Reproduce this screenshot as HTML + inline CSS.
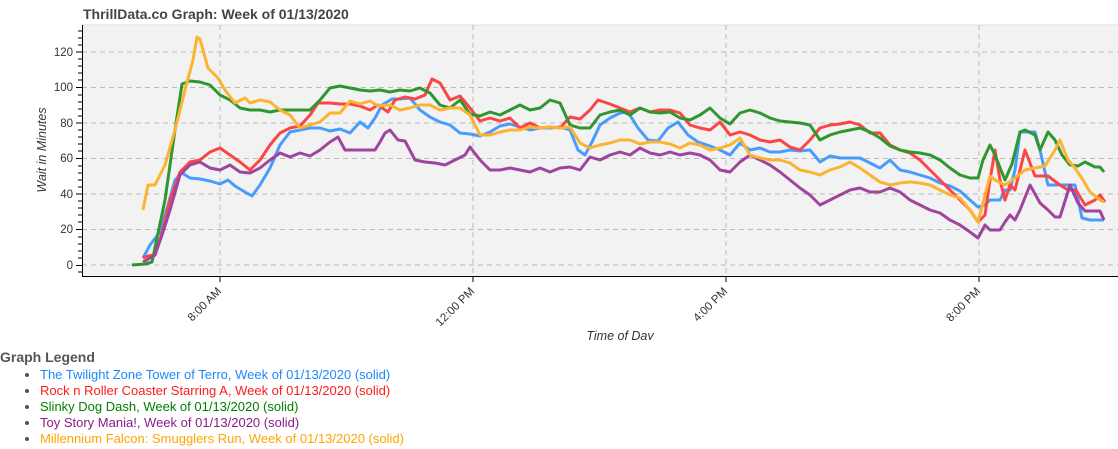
<!DOCTYPE html>
<html><head><style>
body{margin:0;background:#fff;font-family:"Liberation Sans",Arial,sans-serif;width:1118px;height:449px;overflow:hidden;position:relative}
.lg{position:absolute;left:0;top:349px;font-size:13px}
.lg b{color:#555;font-size:14px;display:block;margin-bottom:2px}
.lg ul{margin:0;padding-left:40px;list-style:disc}
.lg li{line-height:16px;color:#555}
</style></head><body>
<svg width="1118" height="340" style="position:absolute;left:0;top:0" font-family="Liberation Sans, Arial, sans-serif">
<text x="83" y="19" font-size="14" font-weight="bold" fill="#444">ThrillData.co Graph: Week of 01/13/2020</text>
<rect x="82" y="25" width="1036" height="251" fill="#f2f2f2"/>
<line x1="82" y1="25" x2="1118" y2="25" stroke="#ddd"/>
<g stroke="#bbb" stroke-dasharray="5,4" stroke-width="1">
<line x1="82" x2="1118" y1="265" y2="265"/><line x1="82" x2="1118" y1="229.5" y2="229.5"/><line x1="82" x2="1118" y1="194" y2="194"/><line x1="82" x2="1118" y1="158.5" y2="158.5"/><line x1="82" x2="1118" y1="123" y2="123"/><line x1="82" x2="1118" y1="87.5" y2="87.5"/><line x1="82" x2="1118" y1="52" y2="52"/>
<line x1="220" x2="220" y1="25" y2="276"/><line x1="473" x2="473" y1="25" y2="276"/><line x1="726" x2="726" y1="25" y2="276"/><line x1="979" x2="979" y1="25" y2="276"/>
</g>
<g stroke="#000"><line x1="82.5" y1="25" x2="82.5" y2="276"/><line x1="82" y1="276.5" x2="1118" y2="276.5"/>
<path d="M76 265.5h6M76 229.5h6M76 194h6M76 158.5h6M76 123h6M76 87.5h6M76 52h6M78 258h4M78 251h4M78 244h4M78 237h4M78 222h4M78 215h4M78 208h4M78 201h4M78 187h4M78 180h4M78 173h4M78 166h4M78 151h4M78 144h4M78 137h4M78 130h4M78 116h4M78 109h4M78 102h4M78 95h4M78 80h4M78 73h4M78 66h4M78 59h4M78 45h4M78 38h4M78 31h4M78 272h4M220 276v6M473 276v6M726 276v6M979 276v6"/></g>
<g font-size="11.5" fill="#333" text-anchor="end">
<text x="73" y="269">0</text><text x="73" y="233">20</text><text x="73" y="198">40</text><text x="73" y="162">60</text><text x="73" y="127">80</text><text x="73" y="91">100</text><text x="73" y="56">120</text>
<text transform="translate(222,292) rotate(-45)">8:00 AM</text><text transform="translate(475,292) rotate(-45)">12:00 PM</text><text transform="translate(728,292) rotate(-45)">4:00 PM</text><text transform="translate(981,292) rotate(-45)">8:00 PM</text>
</g>
<text x="620" y="341" font-size="12.5" font-style="italic" fill="#333" text-anchor="middle" dy="-1">Time of Day</text>
<text transform="translate(46,150) rotate(-90)" font-size="12.5" font-style="italic" fill="#333" text-anchor="middle">Wait in Minutes</text>
<g fill="none" stroke-width="3" stroke-linejoin="round" opacity="0.8">
<polyline stroke="#1e88ff" points="143,258 150,245 160,232 168,205 175,180 182,173 190,178 200,179 210,181 220,184 228,180 235,186 245,192 252,196 260,185 270,168 280,145 290,132 300,130 310,128 320,128 330,131 340,129 350,133 360,122 368,128 375,118 382,105 392,99 400,99 410,98 420,110 430,117 440,122 450,125 460,133 470,134 480,136 490,132 500,126 510,124 520,127 530,130 540,128 550,128 560,127 570,130 578,150 585,155 592,142 600,125 610,118 620,113 628,112 638,128 648,140 658,141 668,128 678,122 688,135 698,142 710,146 720,150 730,155 740,143 750,150 760,148 770,152 780,152 790,150 800,151 810,150 820,162 830,156 840,158 850,158 860,158 870,163 880,168 890,160 900,170 910,172 920,175 930,178 940,183 950,186 960,191 970,200 978,207 985,205 990,200 1000,200 1005,190 1010,190 1015,170 1020,132 1035,132 1040,150 1048,185 1075,185 1082,218 1090,220 1104,220"/>
<polyline stroke="#ff1a1a" points="143,258 148,256 155,255 162,233 170,200 180,172 190,162 200,160 210,152 220,148 230,155 240,162 250,170 260,160 270,145 280,133 290,128 300,126 310,115 318,103 330,103 340,104 350,104 360,106 370,110 378,105 388,112 395,100 405,97 415,99 425,95 432,79 440,83 450,100 460,96 470,108 480,121 490,118 500,121 510,118 520,128 530,123 540,128 550,127 560,128 570,117 580,119 590,110 598,100 610,104 620,108 630,112 640,108 650,112 660,110 670,110 680,113 690,125 700,128 710,130 720,122 730,135 740,132 750,135 760,140 770,142 780,140 790,147 800,150 810,140 820,128 830,125 840,124 850,122 860,125 870,133 880,133 890,145 900,150 910,153 920,160 930,170 940,180 950,190 960,200 970,210 978,222 985,215 990,180 995,150 1000,180 1005,200 1010,185 1015,190 1025,150 1035,176 1048,176 1060,185 1068,190 1076,190 1085,205 1095,200 1100,195 1105,202"/>
<polyline stroke="#008000" points="132,265 145,264 152,262 165,200 175,130 182,84 190,81 200,82 210,85 220,95 230,100 240,108 250,110 260,110 270,112 280,110 310,110 320,100 330,88 340,86 350,88 360,90 370,91 380,90 390,92 400,90 410,91 420,88 430,93 440,105 450,108 460,100 470,114 480,116 490,112 500,115 510,110 520,105 530,110 540,108 550,100 560,103 570,125 580,128 590,128 600,115 610,112 620,110 630,115 640,108 650,112 660,113 670,112 680,118 690,120 700,115 710,108 720,118 730,124 740,113 750,110 760,113 770,118 780,121 790,122 800,123 810,125 820,140 830,135 840,132 850,130 860,128 870,132 880,138 890,146 900,150 910,152 920,153 930,155 940,160 950,168 960,175 970,178 978,178 983,160 990,145 995,155 1005,180 1012,164 1020,132 1025,130 1035,135 1040,150 1048,132 1055,140 1062,155 1070,165 1078,166 1085,162 1095,167 1100,167 1104,172"/>
<polyline stroke="#8b1a8b" points="143,262 150,258 155,255 162,235 170,210 180,175 190,165 200,162 210,168 220,170 230,165 240,172 250,173 260,168 270,160 280,153 290,157 300,153 310,156 320,150 330,142 338,137 345,150 375,150 380,142 385,133 390,130 398,140 405,141 415,160 425,162 435,163 445,165 455,160 465,155 470,147 480,160 490,170 500,170 510,168 520,170 530,172 540,168 550,172 560,168 570,167 580,170 590,157 600,160 610,155 620,152 630,155 640,148 650,153 660,155 670,152 680,155 690,153 700,155 710,160 720,170 730,172 740,162 750,155 760,160 770,165 780,172 790,180 800,188 810,195 820,205 830,200 840,195 850,190 860,188 870,192 880,192 890,188 900,192 910,200 920,205 930,210 940,213 950,220 960,225 970,232 978,238 985,225 990,230 1000,230 1005,222 1010,215 1015,220 1020,210 1030,185 1040,203 1048,210 1055,217 1060,217 1070,185 1078,203 1085,211 1100,211 1104,220"/>
<polyline stroke="#ffa500" points="143,210 148,185 155,185 165,165 175,130 185,90 193,60 197,37 200,39 208,68 218,78 225,90 235,103 245,98 250,103 260,100 270,102 280,110 290,115 300,128 310,125 320,122 330,113 340,113 350,101 360,104 370,101 378,106 390,105 400,110 410,108 420,105 430,105 440,110 450,108 460,108 470,115 480,135 490,135 500,132 510,130 520,130 530,127 540,128 550,127 560,128 570,127 580,143 590,148 600,145 610,143 620,140 630,140 640,144 650,142 660,142 670,144 680,148 690,143 700,145 710,150 720,148 730,145 740,138 750,155 760,158 770,160 780,160 790,163 800,170 810,172 820,175 830,170 840,167 850,162 860,168 870,175 880,182 890,185 900,183 910,182 920,183 930,185 940,190 950,195 960,198 970,210 978,222 985,195 990,176 995,180 1005,185 1015,178 1025,170 1035,168 1045,166 1055,150 1060,140 1068,160 1075,168 1083,180 1090,192 1100,200 1104,202"/>
</g>
</svg>
<div class="lg"><b>Graph Legend</b>
<ul>
<li><span style="color:#1e88ff">The Twilight Zone Tower of Terro, Week of 01/13/2020 (solid)</span></li>
<li><span style="color:#ff1a1a">Rock n Roller Coaster Starring A, Week of 01/13/2020 (solid)</span></li>
<li><span style="color:#008000">Slinky Dog Dash, Week of 01/13/2020 (solid)</span></li>
<li><span style="color:#8b1a8b">Toy Story Mania!, Week of 01/13/2020 (solid)</span></li>
<li><span style="color:#ffa500">Millennium Falcon: Smugglers Run, Week of 01/13/2020 (solid)</span></li>
</ul></div>
</body></html>
